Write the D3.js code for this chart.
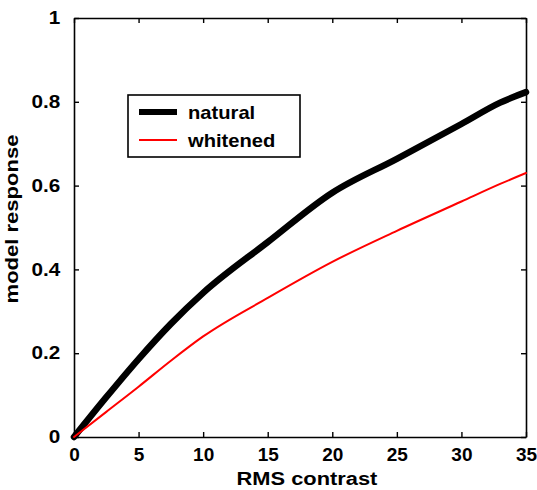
<!DOCTYPE html>
<html>
<head>
<meta charset="utf-8">
<script src="https://cdn.jsdelivr.net/npm/d3@7"></script>
<style>
  html, body { margin: 0; padding: 0; background: #fff; }
  svg text { font-family: "Liberation Sans", Arial, Helvetica, sans-serif; font-weight: bold; fill: #000; }
</style>
</head>
<body>
<svg id="chart" width="537" height="490"></svg>
<script>
// RMS contrast samples and model responses for the two image sets
const contrast = [0, 2.5, 5, 7.5, 10, 15, 20, 25, 30, 33, 35];
const natural  = [0, 0.095, 0.186, 0.27, 0.344, 0.465, 0.583, 0.664, 0.747, 0.798, 0.823];
const whitened = [0, 0.06, 0.12, 0.182, 0.24, 0.332, 0.418, 0.492, 0.562, 0.604, 0.63];

const xTicks = [0, 5, 10, 15, 20, 25, 30, 35];
const yTicks = [0, 0.2, 0.4, 0.6, 0.8, 1];
const yTickLabels = ["0", "0.2", "0.4", "0.6", "0.8", "1"];

const seriesNames = ["natural", "whitened"];
const seriesColors = ["#000000", "#ff0000"];
const seriesWidths = [6.5, 2];

const svg = d3.select("#chart");
const plotLeft = 74, plotRight = 526, plotTop = 18, plotBottom = 437;

const x = d3.scaleLinear().domain([0, 35]).range([plotLeft, plotRight]);
const y = d3.scaleLinear().domain([0, 1]).range([plotBottom, plotTop]);

// frame with inward ticks on all four sides
function styleAxis(g) {
  g.selectAll(".domain").attr("stroke", "#000").attr("stroke-width", 1.6).attr("fill", "none");
  g.selectAll(".tick line").attr("stroke", "#000").attr("stroke-width", 1.4);
}

svg.append("g")
  .attr("transform", `translate(0,${plotBottom})`)
  .call(d3.axisBottom(x).tickValues(xTicks).tickSize(-5).tickSizeOuter(0))
  .call(styleAxis)
  .call(g => g.selectAll(".tick text")
    .attr("font-size", 19).attr("dy", "0.71em").attr("y", 11));

svg.append("g")
  .attr("transform", `translate(0,${plotTop})`)
  .call(d3.axisTop(x).tickValues(xTicks).tickSize(-5).tickSizeOuter(0).tickFormat(""))
  .call(styleAxis);

svg.append("g")
  .attr("transform", `translate(${plotLeft},0)`)
  .call(d3.axisLeft(y).tickValues(yTicks).tickSize(-5).tickSizeOuter(0)
    .tickFormat((d, i) => yTickLabels[i]).tickPadding(12))
  .call(styleAxis)
  .call(g => g.selectAll(".tick text").attr("font-size", 18).attr("transform", "scale(1.15,1)"));

svg.append("g")
  .attr("transform", `translate(${plotRight},0)`)
  .call(d3.axisRight(y).tickValues(yTicks).tickSize(-5).tickSizeOuter(0).tickFormat(""))
  .call(styleAxis);

// response curves
const line = d3.line().x(d => x(d[0])).y(d => y(d[1])).curve(d3.curveMonotoneX);
[natural, whitened].forEach((vals, i) => {
  svg.append("path")
    .datum(contrast.map((c, j) => [c, vals[j]]))
    .attr("fill", "none")
    .attr("stroke", seriesColors[i])
    .attr("stroke-width", seriesWidths[i])
    .attr("stroke-linejoin", "round")
    .attr("stroke-linecap", "round")
    .attr("d", line);
});

// axis titles
svg.append("text")
  .attr("transform", `translate(${(plotLeft + plotRight) / 2 + 7},485) scale(1.15,1)`)
  .attr("text-anchor", "middle")
  .attr("font-size", 19)
  .text("RMS contrast");

svg.append("text")
  .attr("transform", "translate(18,219) rotate(-90) scale(1.16,1)")
  .attr("text-anchor", "middle")
  .attr("font-size", 19)
  .text("model response");

// legend
const legend = svg.append("g").attr("transform", "translate(128,95)");
legend.append("rect")
  .attr("width", 172).attr("height", 62)
  .attr("fill", "#fff").attr("stroke", "#000").attr("stroke-width", 1.6);
seriesNames.forEach((name, i) => {
  const cy = 17 + i * 28;
  legend.append("line")
    .attr("x1", 11).attr("x2", 49).attr("y1", cy).attr("y2", cy)
    .attr("stroke", seriesColors[i]).attr("stroke-width", i === 0 ? 6 : 2);
  legend.append("text")
    .attr("transform", `translate(60,${cy + 7}) scale(1.12,1)`)
    .attr("font-size", 18)
    .text(name);
});
</script>
</body>
</html>
